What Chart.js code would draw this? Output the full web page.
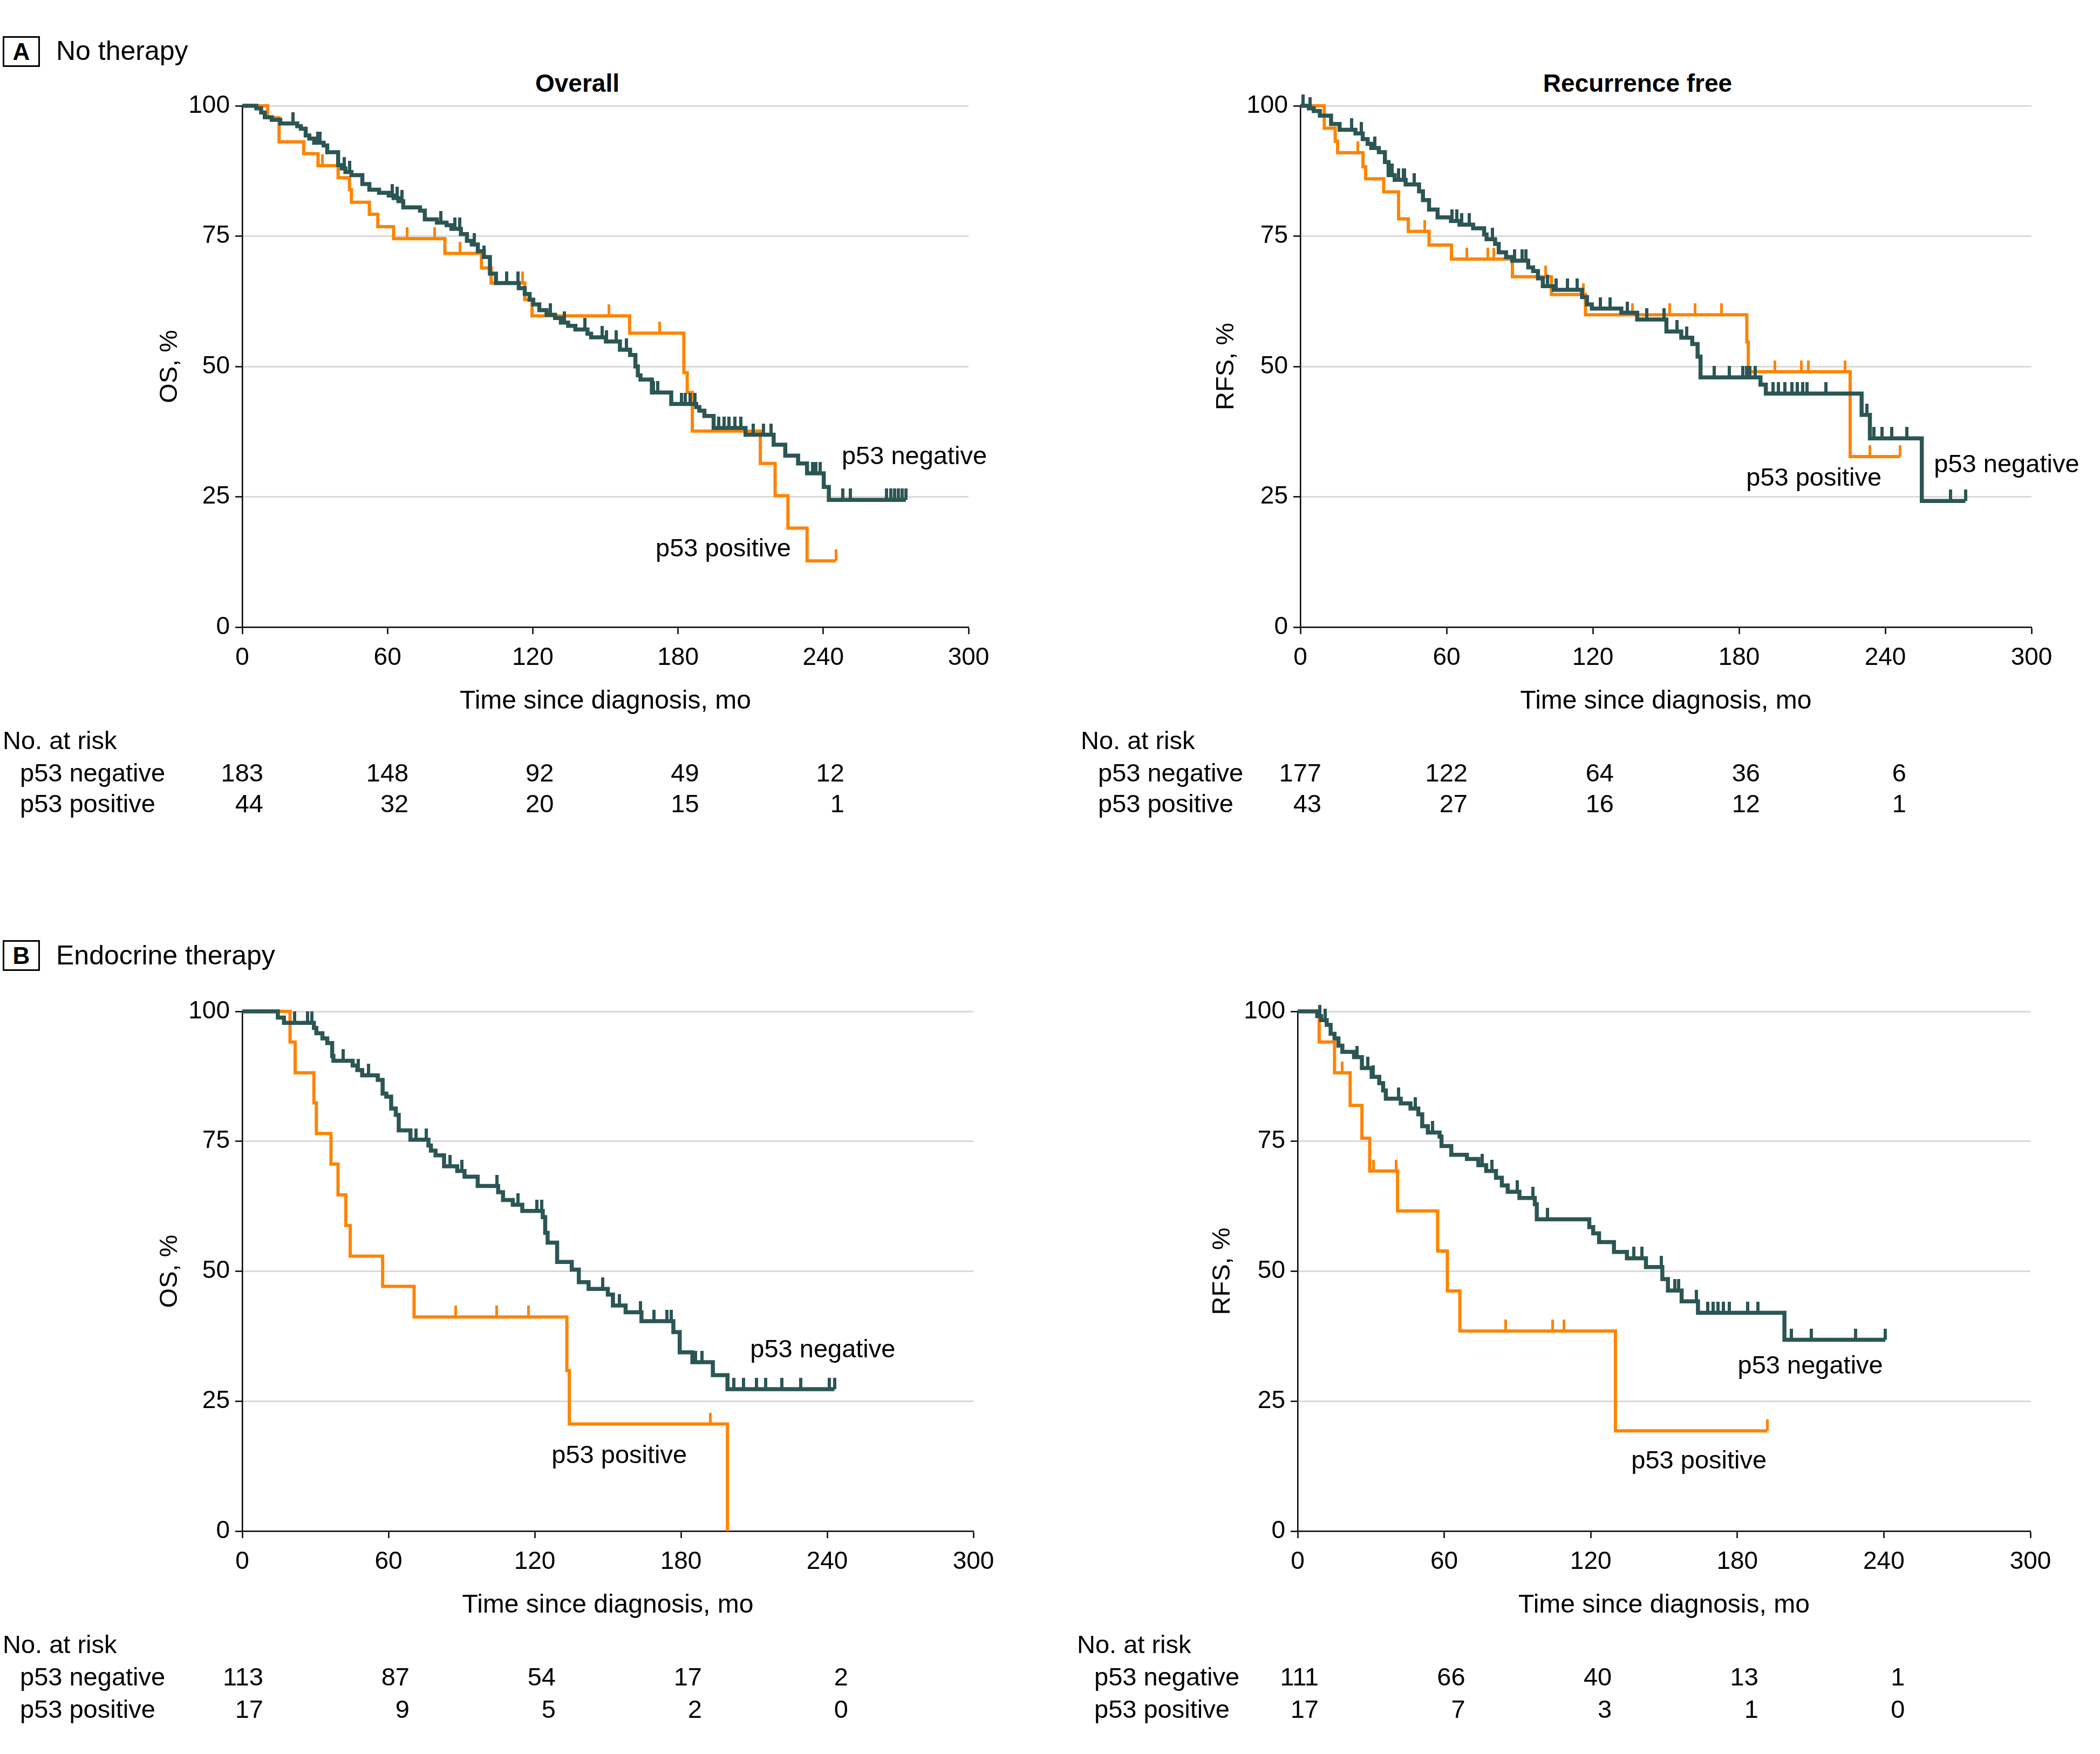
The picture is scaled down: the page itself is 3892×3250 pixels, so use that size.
<!DOCTYPE html>
<html>
<head>
<meta charset="utf-8">
<title>p53 survival curves</title>
<script src="https://cdn.jsdelivr.net/npm/chart.js@4.4.0/dist/chart.umd.min.js"></script>
<style>
  body { margin: 0; background: #fff; width: 3892px; height: 3250px; position: relative; overflow: hidden;
         font-family: 'Liberation Sans', Arial, sans-serif; color: #000; }
  canvas { position: absolute; }
  .tag { position: absolute; border: 3px solid #000; box-sizing: border-box; font-weight: bold;
         font-size: 44px; text-align: center; }
  .txt { position: absolute; font-size: 50px; white-space: nowrap; transform: translateY(-50%); }
  .head { position: absolute; font-size: 46px; font-weight: bold; white-space: nowrap; transform: translate(-50%, -50%); }
</style>
</head>
<body>
<div class="tag" style="left:5px;top:67px;width:69px;height:57px;line-height:51px">A</div>
<div class="txt" style="left:104px;top:94px">No therapy</div>
<div class="head" style="left:1070px;top:154px">Overall</div>
<div class="head" style="left:3035px;top:154px">Recurrence free</div>
<div class="tag" style="left:5px;top:1742px;width:69px;height:57px;line-height:51px">B</div>
<div class="txt" style="left:104px;top:1770px">Endocrine therapy</div>

<canvas id="osNoTx"></canvas>
<canvas id="rfsNoTx"></canvas>
<canvas id="osEndo"></canvas>
<canvas id="rfsEndo"></canvas>

<script>
// time points of the at-risk table (months)
var riskTimes = [0, 60, 120, 180, 240];

// A - no therapy, overall survival  [month, %]
var osNoTxNeg = [[0,100],[5.8,99.5],[7.8,98.7],[9.3,97.8],[12.2,97.3],[15.7,96.6],[22.7,96.1],[24.2,95.6],[26.2,94.3],[27.7,93.7],[29.7,92.9],[33.6,92.4],[35.1,91.1],[39.6,88.6],[41.1,88],[42.6,87.3],[45.1,86.7],[49.6,85],[52.5,83.9],[56.5,83.3],[60.5,82.8],[62.5,82.3],[64.5,81.7],[66.5,80.5],[73.4,79.9],[75.4,78.2],[80.4,77.6],[84.4,77.1],[86.4,76.4],[90.3,75.4],[92.8,74.1],[94.8,73.4],[97.3,72.1],[99.8,71],[102.3,67.8],[104.8,66],[114.2,65],[116.7,63.9],[118.7,62.8],[120.2,61.9],[122.7,60.8],[125.7,59.9],[129.2,59.3],[131.6,58.4],[134.6,57.8],[137.6,57.1],[142.6,56.3],[144.1,55.6],[150.2,54.8],[156,53.2],[160.2,52.2],[162.4,50],[163.4,48.3],[164.5,47.5],[169.2,45],[177.2,42.8],[187.5,42.2],[188.8,41.5],[190.9,40.5],[194.7,38.2],[207.9,36.9],[219.5,35],[224.3,32.9],[229.6,31.4],[233.3,29.5],[240.2,26.9],[242.3,24.4],[274.1,24.4]];
var osNoTxNegCensor = [[21,96.6],[31.2,92.9],[32.2,92.9],[42.1,88],[44.3,87.3],[62,82.8],[64,82.3],[66,81.7],[82,77.6],[87.9,76.4],[89.9,76.4],[95.8,73.4],[99.8,71],[109.3,66],[114,66],[127.2,59.9],[133.1,58.4],[141.6,57.1],[148.6,55.6],[150.5,54.8],[154.4,54.8],[158.7,53.2],[169.8,45],[171.7,45],[181.4,42.8],[183,42.8],[185,42.8],[187,42.8],[196.8,38.2],[199,38.2],[201,38.2],[203.5,38.2],[206,38.2],[211,36.9],[215.2,36.9],[218.5,36.9],[235.5,29.5],[237,29.5],[238.6,29.5],[248.1,24.4],[251.3,24.4],[266.1,24.4],[267.8,24.4],[269.4,24.4],[271,24.4],[272.6,24.4],[274.1,24.4]];
var osNoTxPos = [[0,100],[10.5,97.7],[15.2,93.1],[25.4,90.8],[31.3,88.5],[39.6,86.2],[44.3,83.9],[45.1,81.5],[52.5,79.2],[56,76.8],[62.5,74.5],[83.7,71.7],[98.8,68.9],[102.8,66],[116.7,62.8],[119.7,59.7],[160,56.4],[182.4,48.8],[183.8,45],[185.9,37.6],[214,31.4],[220.1,25.2],[225.4,19],[233.3,12.7],[245.2,12.7]];
var osNoTxPosCensor = [[33.1,88.5],[68,74.5],[79.4,74.5],[89.9,71.7],[115.7,66],[151.5,59.7],[172.4,56.4],[245.2,12.7]];
var osNoTxRiskNeg = [183, 148, 92, 49, 12];
var osNoTxRiskPos = [44, 32, 20, 15, 1];

// A - no therapy, recurrence-free survival
var rfsNoTxNeg = [[0,100],[3.5,99.5],[5.5,99],[8,98.1],[12.6,96.5],[16.1,95.4],[22.6,94.7],[25.6,93.6],[27.6,92.7],[29.1,91.9],[32.2,91.1],[34.7,89.2],[36.2,86.7],[38.7,85.8],[43.2,84.9],[48.7,83.6],[50.3,81.9],[52.8,80.1],[56.3,78.6],[61.8,77.9],[65.3,77.2],[70.9,76.5],[75.4,75.3],[76.4,74.4],[79.9,73.5],[81.4,71.9],[84.4,71],[86.9,70.3],[93.5,69],[95.5,68.3],[97.5,66.9],[99.5,65.4],[104,64.7],[115.6,63.3],[117.6,61.9],[119.6,61.1],[131.7,60.3],[138.2,59],[150.2,56.7],[156.3,55.5],[160.8,54.3],[163,51.9],[164.2,47.9],[188.8,46.5],[191,44.8],[230.3,40.7],[233.7,36.2],[255,24.2],[272.9,24.2]];
var rfsNoTxNegCensor = [[1,100],[4,99.5],[21.1,95.4],[25.1,94.7],[30.6,91.9],[37.7,86.7],[40.2,85.8],[42.2,85.8],[42.7,85.8],[46.7,84.9],[62.3,77.9],[64.3,77.9],[66.3,77.2],[69.4,77.2],[78.9,74.4],[88,70.3],[91,70.3],[92.5,70.3],[101.5,65.4],[105,64.7],[109.6,64.7],[113.6,64.7],[123.1,61.1],[127.1,61.1],[134.2,60.3],[142.2,59],[149.3,59],[154.6,56.7],[158.5,55.5],[169.8,47.9],[176,47.9],[181.5,47.9],[183,47.9],[184.5,47.9],[186.6,47.9],[193.9,44.8],[196.1,44.8],[198.9,44.8],[201.7,44.8],[204,44.8],[206.2,44.8],[207.9,44.8],[215.7,44.8],[232.5,40.7],[235.3,36.2],[238.7,36.2],[242.6,36.2],[248.8,36.2],[266.7,24.2],[272.9,24.2]];
var rfsNoTxPos = [[0,100],[9.8,95.7],[14.3,93.2],[15.3,91],[25.7,88.3],[26.8,86],[34.2,83.5],[40.3,78.3],[44.3,75.9],[52.8,73.3],[62,70.6],[87,67.2],[103,63.8],[117,59.9],[183.2,54.7],[183.8,49],[225.6,32.7],[246,32.7]];
var rfsNoTxPosCensor = [[23.5,91],[51,75.9],[68.2,70.6],[77,70.6],[79.4,70.6],[100.6,67.2],[116.2,63.8],[136.2,59.9],[151.5,59.9],[161.9,59.9],[172.8,59.9],[194.8,49],[205.6,49],[208.4,49],[223.6,49],[233.7,32.7],[246,32.7]];
var rfsNoTxRiskNeg = [177, 122, 64, 36, 6];
var rfsNoTxRiskPos = [43, 27, 16, 12, 1];

// B - endocrine therapy, overall survival
var osEndoNeg = [[0,100],[14.6,98.8],[17.1,97.8],[29.4,96.8],[30.4,95.8],[32.9,94.8],[34.9,93.9],[36.9,91.4],[37.4,90.5],[45.3,89.6],[47.2,88.7],[49.2,87.7],[55.6,86.8],[57.6,84.2],[59.1,83.6],[61.1,81.3],[63,80.1],[64.2,77.1],[69,75.3],[76.4,74.2],[77.4,73.2],[79.3,72.3],[82.8,70.2],[88.2,69.3],[91.2,68.2],[96.6,66.4],[105,65.2],[107,63.7],[111,62.8],[114.9,61.6],[123.3,60.4],[124.3,57.4],[125.3,55.5],[129.2,51.8],[135.2,50.3],[138.1,47.9],[142.1,46.6],[150,45.5],[152.1,43.4],[157.3,42.1],[163.8,40.4],[176.9,38.3],[179.5,34.4],[184.7,32.5],[193.1,30],[199.1,27.3],[243,27.3]];
var osEndoNegCensor = [[21.5,97.8],[26.7,97.8],[28.5,97.8],[41.5,90.5],[47.5,88.7],[51.7,87.7],[71.4,75.3],[75.4,75.3],[85.3,70.2],[90.2,69.3],[104.5,66.4],[113.2,62.8],[120.8,61.6],[122.8,61.6],[148,46.6],[154.7,43.4],[163.3,42.1],[169,40.4],[174.3,40.4],[176.1,40.4],[186,32.5],[188.7,32.5],[201.7,27.3],[205.6,27.3],[210.9,27.3],[214.8,27.3],[221.3,27.3],[229.2,27.3],[240.9,27.3],[243,27.3]];
var osEndoPos = [[0,100],[19.6,94.1],[21.7,88.2],[29.4,82.4],[30.4,76.5],[36.4,70.6],[39.3,64.7],[42.5,58.8],[44.3,52.9],[57.6,47.1],[70.5,41.2],[133.2,30.9],[134.2,20.6],[199.1,0]];
var osEndoPosCensor = [[87.5,41.2],[104.3,41.2],[117.4,41.2],[192,20.6]];
var osEndoRiskNeg = [113, 87, 54, 17, 2];
var osEndoRiskPos = [17, 9, 5, 2, 0];

// B - endocrine therapy, recurrence-free survival
var rfsEndoNeg = [[0,100],[8,99.1],[9.6,98.3],[11.9,97.4],[13.5,95.7],[15.1,94.8],[16.7,93.4],[18.3,92.2],[23.1,91.2],[26.3,89.1],[30.3,87.4],[33.4,86.2],[35,84.8],[36.1,83.2],[42.2,82.3],[46.2,81.3],[49.4,80.2],[51,77.9],[53.3,76.7],[58.1,75.9],[58.9,74.1],[62.9,72.4],[69.3,71.6],[74,70.4],[77.2,69.3],[81.2,68],[83.6,66.5],[86,65.3],[90.8,64.1],[97.1,62.9],[97.9,60],[119.4,58.5],[121,57.3],[123.4,55.6],[129.5,53.7],[134.8,52.5],[142.6,50.8],[149.3,48.5],[151.6,46.3],[157.2,44.2],[163.9,42],[199.3,36.8],[240.6,36.8]];
var rfsEndoNegCensor = [[9,99.1],[11.3,98.3],[24.4,91.2],[28.7,89.1],[31,87.4],[41.4,83.2],[48.2,81.3],[55.3,76.7],[75.6,70.4],[79.6,69.3],[89.9,65.3],[96.3,64.1],[102.2,60],[137.7,52.5],[140.9,52.5],[148.9,50.8],[154.4,46.3],[156,46.3],[163.3,44.2],[168,42],[170,42],[172,42],[174.4,42],[176.8,42],[184.2,42],[188.4,42],[202.2,36.8],[210.2,36.8],[228.5,36.8],[240.6,36.8]];
var rfsEndoPos = [[0,100],[8.8,94.1],[15.1,88.2],[21.5,81.9],[26.3,75.6],[29.5,69.3],[40.9,61.6],[57.3,53.9],[61.3,46.2],[66.4,38.5],[130.1,19.3],[192.2,19.3]];
var rfsEndoPosCensor = [[18.3,88.2],[31,69.3],[40.3,69.3],[85.2,38.5],[104.3,38.5],[109.1,38.5],[192.2,19.3]];
var rfsEndoRiskNeg = [111, 66, 40, 13, 1];
var rfsEndoRiskPos = [17, 7, 3, 1, 0];

var NEG = '#2b5654';
var POS = '#ff8300';
var FONT = "'Liberation Sans', Arial, sans-serif";

Chart.defaults.font.family = FONT;
Chart.defaults.font.size = 46;
Chart.defaults.color = '#000';

function pts(a) { return a.map(function(p){ return {x: p[0], y: p[1]}; }); }

// censor mark: a short vertical stroke rising from the point
function censorMark(color, w, len) {
  var c = document.createElement('canvas');
  c.width = w; c.height = len * 2;
  var g = c.getContext('2d');
  g.fillStyle = color;
  g.fillRect(0, 0, w, len);
  return c;
}
var negMark = censorMark(NEG, 6, 21);
var posMark = censorMark(POS, 5, 21);

// at-risk table + curve labels, placed through the chart's own scales
function textPlugin(lay, riskNeg, riskPos, tags) {
  return {
    id: 'riskTable',
    afterDraw: function(chart) {
      var ctx = chart.ctx, xs = chart.scales.x, ys = chart.scales.y;
      ctx.save();
      ctx.font = '47px ' + FONT;
      ctx.fillStyle = '#000';
      ctx.textBaseline = 'middle';
      ctx.textAlign = 'left';
      ctx.fillText('No. at risk', lay.headX, lay.rows[0]);
      ctx.fillText('p53 negative', lay.labelX, lay.rows[1]);
      ctx.fillText('p53 positive', lay.labelX, lay.rows[2]);
      ctx.textAlign = 'right';
      for (var i = 0; i < riskTimes.length; i++) {
        var px = xs.getPixelForValue(riskTimes[i]) + 39;
        ctx.fillText(String(riskNeg[i]), px, lay.rows[1]);
        ctx.fillText(String(riskPos[i]), px, lay.rows[2]);
      }
      ctx.textAlign = 'center';
      tags.forEach(function(t){
        ctx.fillText(t.text, xs.getPixelForValue(t.at[0]), ys.getPixelForValue(t.at[1]));
      });
      ctx.restore();
    }
  };
}

function panel(id, lay, yTitle, neg, negCens, pos, posCens, riskNeg, riskPos, tags) {
  var cv = document.getElementById(id);
  cv.width = lay.w; cv.height = lay.h;
  cv.style.left = lay.left + 'px';
  cv.style.top = lay.top + 'px';

  new Chart(cv, {
    type: 'line',
    data: {
      datasets: [
        { data: pts(neg), borderColor: NEG, borderWidth: 7.5, stepped: true, pointRadius: 0, fill: false, clip: false,
          borderCapStyle: 'butt', borderJoinStyle: 'miter' },
        { type: 'scatter', data: pts(negCens), pointStyle: negMark, pointRadius: 1, clip: false, showLine: false },
        { data: pts(pos), borderColor: POS, borderWidth: 6, stepped: true, pointRadius: 0, fill: false, clip: false,
          borderCapStyle: 'butt', borderJoinStyle: 'miter' },
        { type: 'scatter', data: pts(posCens), pointStyle: posMark, pointRadius: 1, clip: false, showLine: false }
      ]
    },
    options: {
      responsive: false,
      devicePixelRatio: 1,
      animation: false,
      events: [],
      layout: { padding: { left: 0, top: lay.padTop, right: lay.padRight, bottom: lay.padBottom } },
      plugins: { legend: { display: false }, tooltip: { enabled: false } },
      scales: {
        x: {
          type: 'linear', min: 0, max: 300,
          ticks: { stepSize: 60, padding: 17, maxRotation: 0 },
          grid: { drawOnChartArea: false, tickColor: '#000', tickLength: 13, tickWidth: 2.5 },
          border: { color: '#000', width: 2.5 },
          title: { display: true, text: 'Time since diagnosis, mo', font: { size: 48 },
                   padding: { top: 0, bottom: 33 } },
          afterFit: function(s) { s.height = 200; }
        },
        y: {
          min: 0, max: 100,
          ticks: { stepSize: 25, padding: 10 },
          grid: {
            color: function(c) { return c.tick && c.tick.value === 0 ? 'rgba(0,0,0,0)' : '#d9d9d9'; },
            lineWidth: 3, tickColor: '#000', tickLength: 13, tickWidth: 2.5
          },
          border: { color: '#000', width: 2.5 },
          title: { display: true, text: yTitle, font: { size: 47 },
                   padding: { top: lay.yTitleX - 28, bottom: 0 } },
          afterFit: function(s) { s.width = lay.yWidth; }
        }
      }
    },
    plugins: [textPlugin(lay, riskNeg, riskPos, tags)]
  });
}

panel('osNoTx',
  { left: 0, top: 120, w: 1900, h: 1440, padTop: 76, padRight: 105, padBottom: 198, yWidth: 449, yTitleX: 315,
    headX: 5, labelX: 37, rows: [1255, 1315, 1372] },
  'OS, %', osNoTxNeg, osNoTxNegCensor, osNoTxPos, osNoTxPosCensor, osNoTxRiskNeg, osNoTxRiskPos,
  [{ text: 'p53 negative', at: [277.6, 32.6] }, { text: 'p53 positive', at: [198.7, 14.9] }]);

panel('rfsNoTx',
  { left: 1960, top: 120, w: 1932, h: 1440, padTop: 76, padRight: 127, padBottom: 198, yWidth: 450, yTitleX: 313,
    headX: 43, labelX: 75, rows: [1255, 1315, 1372] },
  'RFS, %', rfsNoTxNeg, rfsNoTxNegCensor, rfsNoTxPos, rfsNoTxPosCensor, rfsNoTxRiskNeg, rfsNoTxRiskPos,
  [{ text: 'p53 negative', at: [289.8, 31.1] }, { text: 'p53 positive', at: [210.7, 28.5] }]);

panel('osEndo',
  { left: 0, top: 1800, w: 1900, h: 1450, padTop: 74, padRight: 96, padBottom: 213, yWidth: 449, yTitleX: 315,
    headX: 5, labelX: 37, rows: [1250, 1310, 1370] },
  'OS, %', osEndoNeg, osEndoNegCensor, osEndoPos, osEndoPosCensor, osEndoRiskNeg, osEndoRiskPos,
  [{ text: 'p53 negative', at: [238.2, 34.8] }, { text: 'p53 positive', at: [154.7, 14.4] }]);

panel('rfsEndo',
  { left: 1960, top: 1800, w: 1932, h: 1450, padTop: 74, padRight: 129, padBottom: 213, yWidth: 445, yTitleX: 306,
    headX: 36, labelX: 68, rows: [1250, 1310, 1370] },
  'RFS, %', rfsEndoNeg, rfsEndoNegCensor, rfsEndoPos, rfsEndoPosCensor, rfsEndoRiskNeg, rfsEndoRiskPos,
  [{ text: 'p53 negative', at: [209.9, 31.7] }, { text: 'p53 positive', at: [164.3, 13.4] }]);
</script>
</body>
</html>
